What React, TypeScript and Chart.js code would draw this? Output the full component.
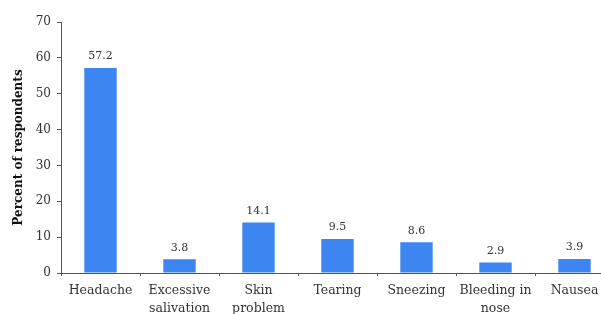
import React, { useEffect, useRef } from "react";
import { Chart, registerables } from "chart.js";

Chart.register(...registerables);

const categories: string[][] = [
  ["Headache"],
  ["Excessive", "salivation"],
  ["Skin", "problem"],
  ["Tearing"],
  ["Sneezing"],
  ["Bleeding in", "nose"],
  ["Nausea"],
];
const values: number[] = [57.2, 3.8, 14.1, 9.5, 8.6, 2.9, 3.9];
const yTicks: number[] = [0, 10, 20, 30, 40, 50, 60, 70];
const yTitle = "Percent of respondents";

const FONT = "'DejaVu Serif', serif";
const TEXT = "#333333";
const BAR = "#3d85f0";

const valueLabels = {
  id: "valueLabels",
  afterDatasetsDraw(chart: any) {
    const ctx = chart.ctx;
    const meta = chart.getDatasetMeta(0);
    ctx.save();
    ctx.font = `11px ${FONT}`;
    ctx.fillStyle = TEXT;
    ctx.textAlign = "center";
    ctx.textBaseline = "bottom";
    meta.data.forEach((el: any, i: number) => {
      ctx.fillText(values[i].toFixed(1), el.x, el.y - 6);
    });
    ctx.restore();
  },
};

export default function App() {
  const ref = useRef<HTMLCanvasElement | null>(null);
  useEffect(() => {
    if (!ref.current) return;
    const chart = new Chart(ref.current, {
      type: "bar",
      data: {
        labels: categories,
        datasets: [
          {
            data: values,
            backgroundColor: BAR,
            borderWidth: 0,
            barPercentage: 0.41,
            categoryPercentage: 1,
          },
        ],
      },
      options: {
        animation: false,
        responsive: false,
        maintainAspectRatio: false,
        layout: { padding: { top: 22, right: 6, left: 0, bottom: 0 } },
        plugins: { legend: { display: false }, tooltip: { enabled: false } },
        scales: {
          x: {
            grid: {
              display: true,
              drawOnChartArea: false,
              drawTicks: true,
              tickLength: 3,
              color: "#555555",
              offset: true,
            },
            border: { display: true, color: "#555555", width: 1 },
            ticks: {
              color: TEXT,
              font: { family: FONT, size: 12.5, lineHeight: 1.4 },
              padding: 6,
              maxRotation: 0,
              autoSkip: false,
            },
            afterFit(scale: any) {
              scale.height = 41;
            },
          },
          y: {
            min: 0,
            max: 70,
            afterBuildTicks(scale: any) {
              scale.ticks = yTicks.map((v) => ({ value: v }));
            },
            grid: {
              display: true,
              drawOnChartArea: false,
              drawTicks: true,
              tickLength: 4,
              color: "#555555",
            },
            border: { display: true, color: "#555555", width: 1 },
            ticks: {
              color: TEXT,
              font: { family: FONT, size: 12 },
              padding: 6,
            },
            title: {
              display: true,
              text: yTitle,
              color: "#111111",
              font: { family: FONT, size: 12, weight: "bold" },
              padding: { top: 12, bottom: 4 },
            },
            afterFit(scale: any) {
              scale.width = 61;
            },
          },
        },
      },
      plugins: [valueLabels],
    });
    return () => chart.destroy();
  }, []);
  return (
    <div
      style={{
        position: "fixed",
        left: 0,
        top: 0,
        width: 601,
        height: 314,
        overflow: "hidden",
        background: "#ffffff",
      }}
    >
      <canvas ref={ref} width={620} height={314} style={{ width: 620, height: 314, display: "block" }} />
    </div>
  );
}
